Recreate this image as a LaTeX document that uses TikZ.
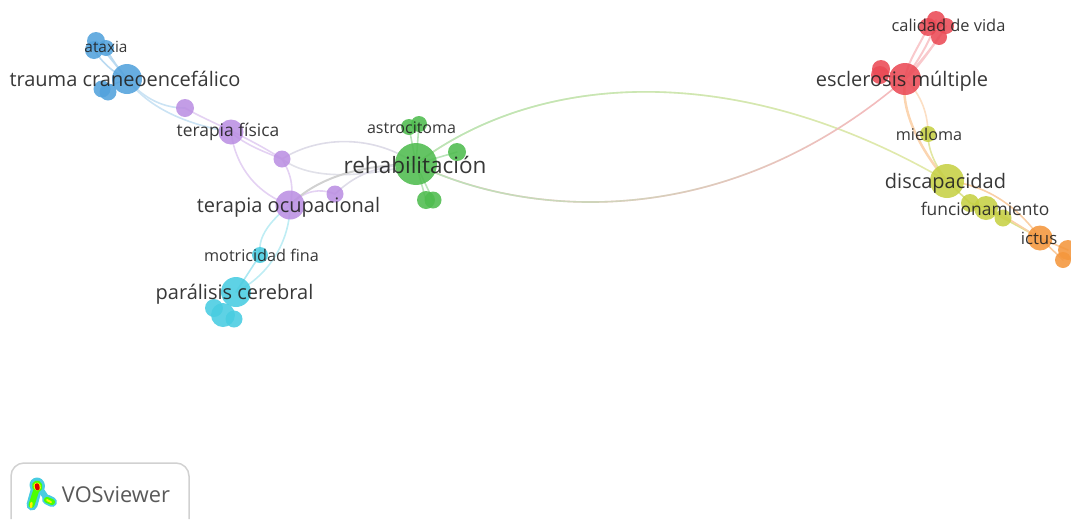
\documentclass[tikz,border=0pt]{standalone}
\usepackage{fontspec}
\setmainfont{Open Sans}
\usetikzlibrary{fadings}
\pgfdeclarelayer{edges}
\pgfdeclarelayer{labels}
\pgfsetlayers{edges,main,labels}
\definecolor{cblue}{HTML}{52A2DC}
\definecolor{cpurple}{HTML}{BB8FE2}
\definecolor{ccyan}{HTML}{48CCE1}
\definecolor{cgreen}{HTML}{4FBC4F}
\definecolor{cred}{HTML}{EA4A55}
\definecolor{cyellow}{HTML}{C6D044}
\definecolor{corange}{HTML}{F4963C}
\definecolor{ink}{HTML}{222222}
\tikzset{
  bub/.style={circle,inner sep=0pt,minimum size=#1,fill opacity=.88,draw=none},
  bblue/.style={bub=#1,fill=cblue},
  bpurple/.style={bub=#1,fill=cpurple},
  bcyan/.style={bub=#1,fill=ccyan},
  bgreen/.style={bub=#1,fill=cgreen},
  bred/.style={bub=#1,fill=cred},
  byellow/.style={bub=#1,fill=cyellow},
  borange/.style={bub=#1,fill=corange},
  edge/.style={line width=1.6pt,draw=#1,line cap=round},
  lab/.style={text=ink,text opacity=.9,inner sep=0pt,font=\fontsize{#1}{#1}\selectfont},
  logo/.style={line cap=round,line width=#1},
}
\begin{document}
\begin{tikzpicture}[x=1pt,y=-1pt]
\useasboundingbox (0,0) rectangle (1071,520);
% blue
\node[bblue=18] (b1) at (96,41) {};
\node[bblue=16] (b2) at (106,48) {};
\node[bblue=18] (b3) at (94,50) {};
\node[bblue=30] (trauma) at (127,79) {};
\node[bblue=17] (b4) at (102,89) {};
\node[bblue=17] (b5) at (108,92) {};
% purple
\node[bpurple=18] (p1) at (185,108) {};
\node[bpurple=25] (fisica) at (231,132) {};
\node[bpurple=17] (p2) at (282,159) {};
\node[bpurple=29] (ocup) at (290,205) {};
\node[bpurple=17] (p3) at (335,194) {};
% cyan
\node[bcyan=16] (motr) at (260,255) {};
\node[bcyan=30] (paral) at (236,292) {};
\node[bcyan=18] (c1) at (214,308) {};
\node[bcyan=24] (c2) at (223,315) {};
\node[bcyan=17] (c3) at (234,319) {};
% green
\node[bgreen=42] (rehab) at (416,164) {};
\node[bgreen=16] (astro) at (409,127) {};
\node[bgreen=16] (g1) at (419,124) {};
\node[bgreen=18] (g2) at (457,152) {};
\node[bgreen=18] (g3) at (426,200) {};
\node[bgreen=17] (g4) at (433,200) {};
% red
\node[bred=32] (escl) at (905,79) {};
\node[bred=18] (r1) at (881,69) {};
\node[bred=18] (r2) at (880,75) {};
\node[bred=18] (r3) at (936,20) {};
\node[bred=18] (cal) at (928,27) {};
\node[bred=16] (r4) at (946,26) {};
\node[bred=16] (r5) at (939,37) {};
% yellow
\node[byellow=16] (miel) at (928,134) {};
\node[byellow=34] (disc) at (947,181) {};
\node[byellow=18] (y1) at (970,203) {};
\node[byellow=24] (func) at (986,208) {};
\node[byellow=17] (y2) at (1003,218) {};
% orange
\node[borange=25] (ictus) at (1040,238) {};
\node[borange=20] (o1) at (1068,250) {};
\node[borange=16] (o2) at (1063,260) {};
\begin{pgfonlayer}{edges}
% long gradient edges
\draw[edge=cyellow!45] (rehab.center) .. controls (540,70) and (740,60) .. (disc.center);
\draw[edge=cgreen!40,path fading=east] (rehab.center) .. controls (540,70) and (740,60) .. (disc.center);
\draw[edge=cred!38] (rehab.center) .. controls (520,215) and (720,238) .. (escl.center);
\draw[edge=cgreen!40,path fading=east] (rehab.center) .. controls (520,215) and (720,238) .. (escl.center);
% blue
\draw[edge=cblue!40] (b1.center) .. controls (108,55) and (118,68) .. (trauma.center);
\draw[edge=cblue!40] (b2.center) .. controls (112,60) and (120,70) .. (trauma.center);
\draw[edge=cblue!40] (b3.center) .. controls (102,62) and (112,72) .. (trauma.center);
\draw[edge=cblue!40] (b4.center) -- (trauma.center);
\draw[edge=cblue!30] (trauma.center) .. controls (145,100) and (165,108) .. (p1.center);
\draw[edge=cblue!30] (trauma.center) .. controls (150,110) and (190,125) .. (fisica.center);
% purple
\draw[edge=cpurple!40] (p1.center) .. controls (205,120) and (245,135) .. (p2.center);
\draw[edge=cpurple!40] (fisica.center) .. controls (245,145) and (265,152) .. (p2.center);
\draw[edge=cpurple!40] (fisica.center) .. controls (236,170) and (260,195) .. (ocup.center);
\draw[edge=cpurple!40] (p2.center) .. controls (292,175) and (294,190) .. (ocup.center);
\draw[edge=cpurple!40] (ocup.center) .. controls (305,190) and (320,188) .. (p3.center);
\draw[edge=cgreen!25!cpurple!35] (p2.center) .. controls (320,135) and (375,135) .. (rehab.center);
\draw[edge=cgreen!30!cpurple!30] (p2.center) .. controls (310,180) and (360,178) .. (rehab.center);
\draw[edge=black!18,line width=2pt] (ocup.center) .. controls (320,175) and (365,165) .. (rehab.center);
\draw[edge=cgreen!25!cpurple!35] (p3.center) .. controls (350,180) and (370,165) .. (rehab.center);
% cyan
\draw[edge=ccyan!35] (ocup.center) .. controls (265,225) and (258,240) .. (motr.center);
\draw[edge=ccyan!35] (ocup.center) .. controls (290,240) and (270,275) .. (paral.center);
\draw[edge=ccyan!45] (motr.center) -- (paral.center);
% green
\draw[edge=cgreen!40] (astro.center) -- (rehab.center);
\draw[edge=cgreen!40] (g1.center) -- (rehab.center);
\draw[edge=cgreen!40] (g2.center) -- (rehab.center);
\draw[edge=cgreen!40] (g3.center) -- (rehab.center);
\draw[edge=cgreen!40] (g4.center) -- (rehab.center);
% red
\draw[edge=cred!30,line width=2pt] (cal.center) .. controls (920,45) and (908,60) .. (escl.center);
\draw[edge=cred!30,line width=2pt] (r3.center) .. controls (932,40) and (915,65) .. (escl.center);
\draw[edge=cred!30,line width=2pt] (r4.center) .. controls (935,45) and (920,62) .. (escl.center);
\draw[edge=cred!30,line width=2pt] (r5.center) .. controls (930,50) and (918,68) .. (escl.center);
\draw[edge=cred!30] (r1.center) -- (escl.center);
\draw[edge=cred!30] (r2.center) -- (escl.center);
% red to yellow
\draw[edge=corange!40,line width=2.5pt] (escl.center) .. controls (900,110) and (920,150) .. (disc.center);
\draw[edge=corange!30] (escl.center) .. controls (922,95) and (928,115) .. (miel.center);
\draw[edge=cyellow!50] (miel.center) .. controls (928,150) and (935,165) .. (disc.center);
% yellow
\draw[edge=cyellow!60] (disc.center) -- (y1.center);
\draw[edge=cyellow!60] (y1.center) -- (func.center);
\draw[edge=cyellow!60] (func.center) -- (y2.center);
\draw[edge=cyellow!60] (y2.center) -- (ictus.center);
\draw[edge=corange!45] (disc.center) .. controls (990,185) and (1020,210) .. (ictus.center);
\draw[edge=corange!45] (func.center) .. controls (1005,215) and (1025,230) .. (ictus.center);
% orange
\draw[edge=corange!50] (ictus.center) -- (o1.center);
\draw[edge=corange!50] (ictus.center) -- (o2.center);
\end{pgfonlayer}
\begin{pgfonlayer}{labels}
\node[lab=15.4] (lataxia) at (106,47) {ataxia};
\node[lab=20] (ltrauma) at (125,79) {trauma craneoencefálico};
\node[lab=17.4] (lfisica) at (228,132) {terapia física};
\node[lab=20] (locup) at (288.5,207) {terapia ocupacional};
\node[lab=16.2] (lmotr) at (261.5,255) {motricidad fina};
\node[lab=20] (lparal) at (234.5,294) {parálisis cerebral};
\node[lab=16] (lastro) at (411.5,128) {astrocitoma};
\node[lab=22.5] (lrehab) at (415,164.5) {rehabilitación};
\node[lab=16.4] (lcal) at (948.5,25.5) {calidad de vida};
\node[lab=20] (lescl) at (902,81) {esclerosis múltiple};
\node[lab=16.2] (lmiel) at (929,134) {mieloma};
\node[lab=20] (ldisc) at (945.5,183) {discapacidad};
\node[lab=17.4] (lfunc) at (985,208.5) {funcionamiento};
\node[lab=16.8] (lictus) at (1039,238.5) {ictus};
\end{pgfonlayer}
% VOSviewer box
\draw[black!18,line width=1.5pt,rounded corners=13pt] (11,519) -- (11,463) -- (189,463) -- (189,519);
\node[text=black!65,inner sep=0pt,font=\fontsize{21.8}{21.8}\selectfont] (vos) at (116,494.5) {VOSviewer};
% logo heat map
\draw[logo=11pt,ccyan] (37,487) -- (32,505);
\draw[logo=15pt,ccyan] (37,485) -- (37.5,486);
\draw[logo=10pt,ccyan] (47,499.5) -- (52,502);
\draw[logo=6pt,ccyan] (41,490) -- (47,499);
\draw[logo=6pt,green!70!yellow] (36,491) -- (31.5,505);
\draw[logo=10pt,green!70!yellow] (37,485.5) -- (37.5,487);
\draw[logo=6pt,green!70!yellow] (47,500) -- (52,502);
\draw[logo=2.5pt,yellow] (31.5,503) -- (31,507);
\draw[logo=2pt,yellow] (47,500) -- (51,502);
\draw[logo=7pt,yellow] (37,486) -- (37.5,487);
\draw[logo=4.5pt,red!85!black] (37,485.5) -- (37.5,488);
\end{tikzpicture}
\end{document}
